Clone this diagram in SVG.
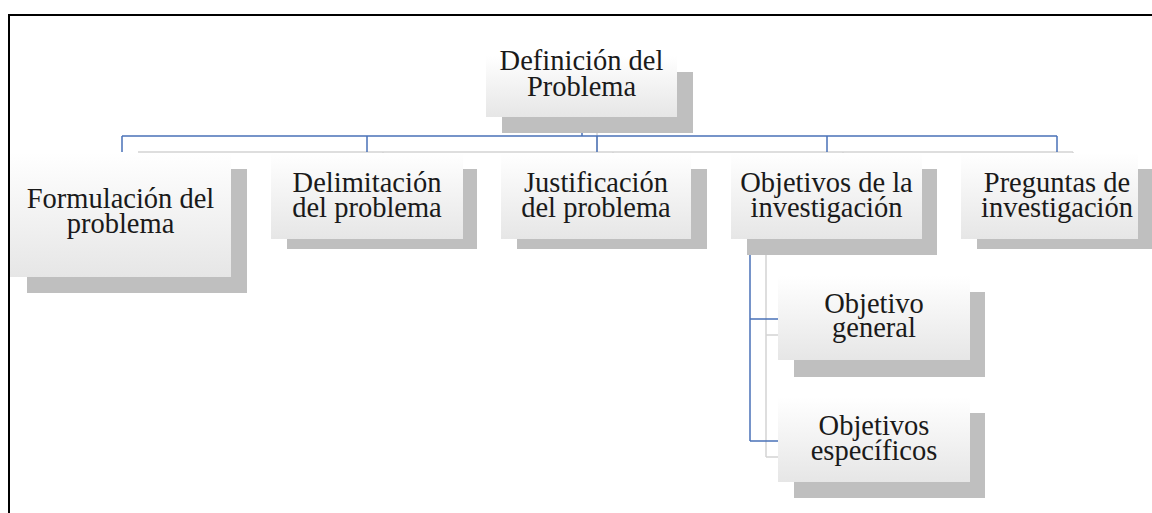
<svg xmlns="http://www.w3.org/2000/svg" width="1152" height="513" viewBox="0 0 1152 513">
<defs>
<linearGradient id="face" x1="0" y1="0" x2="0" y2="1">
<stop offset="0" stop-color="#ffffff"/>
<stop offset="1" stop-color="#e6e6e6"/>
</linearGradient>
<style>
.sh{fill:#bfbfbf}
.fc{fill:url(#face)}
.t{font-family:"Liberation Serif","Times New Roman",serif;font-size:28.5px;fill:#1a1a1a;text-anchor:middle}
.bl{stroke:#4a72b8;stroke-width:1.5;fill:none}
.gl{stroke:#d4d4d4;stroke-width:1.5;fill:none}
</style>
</defs>
<rect width="1152" height="513" fill="#ffffff"/>
<path d="M9 513 V15 H1152" fill="none" stroke="#000" stroke-width="2"/>
<g id="connectors">
<path class="gl" d="M597 133 V152 M138 152 H1073 M383 152 V168 M613 152 V168 M843 152 V168 M1073 152 V168 M766 255 V457 M766 335 H794 M766 457 H794"/>
<path class="bl" d="M582 117 V136 M122 136 H1057 M122 136 V152 M367 136 V152 M597 136 V152 M827 136 V152 M1057 136 V152 M750 239 V441 M750 319 H778 M750 441 H778"/>
</g>
<g id="root">
<rect class="sh" x="502" y="72" width="191" height="61"/>
<rect class="fc" x="486" y="56" width="191" height="61"/>
<text class="t" x="581.5" y="70">Definición del</text>
<text class="t" x="581.5" y="96">Problema</text>
</g>
<g id="formulacion">
<rect class="sh" x="27" y="169" width="220" height="124"/>
<rect class="fc" x="10" y="153" width="221" height="124"/>
<text class="t" x="120.5" y="208">Formulación del</text>
<text class="t" x="120.5" y="233">problema</text>
</g>
<g id="delimitacion">
<rect class="sh" x="287" y="169" width="190" height="80"/>
<rect class="fc" x="271" y="153" width="192" height="86"/>
<text class="t" x="367" y="192">Delimitación</text>
<text class="t" x="367" y="217">del problema</text>
</g>
<g id="justificacion">
<rect class="sh" x="517" y="169" width="190" height="80"/>
<rect class="fc" x="501" y="153" width="190" height="86"/>
<text class="t" x="596" y="192">Justificación</text>
<text class="t" x="596" y="217">del problema</text>
</g>
<g id="objetivos">
<rect class="sh" x="747" y="169" width="190" height="86"/>
<rect class="fc" x="731" y="153" width="191" height="86"/>
<text class="t" x="826.5" y="192">Objetivos de la</text>
<text class="t" x="826.5" y="217">investigación</text>
</g>
<g id="preguntas">
<rect class="sh" x="977" y="169" width="175" height="80"/>
<rect class="fc" x="961" y="153" width="177" height="86"/>
<text class="t" x="1057" y="192">Preguntas de</text>
<text class="t" x="1057" y="217">investigación</text>
</g>
<g id="objetivo-general">
<rect class="sh" x="794" y="292" width="191" height="85"/>
<rect class="fc" x="778" y="276" width="192" height="84"/>
<text class="t" x="874" y="313">Objetivo</text>
<text class="t" x="874" y="337">general</text>
</g>
<g id="objetivos-especificos">
<rect class="sh" x="794" y="413" width="191" height="85"/>
<rect class="fc" x="778" y="397" width="192" height="85"/>
<text class="t" x="874" y="435">Objetivos</text>
<text class="t" x="874" y="460">específicos</text>
</g>
</svg>
